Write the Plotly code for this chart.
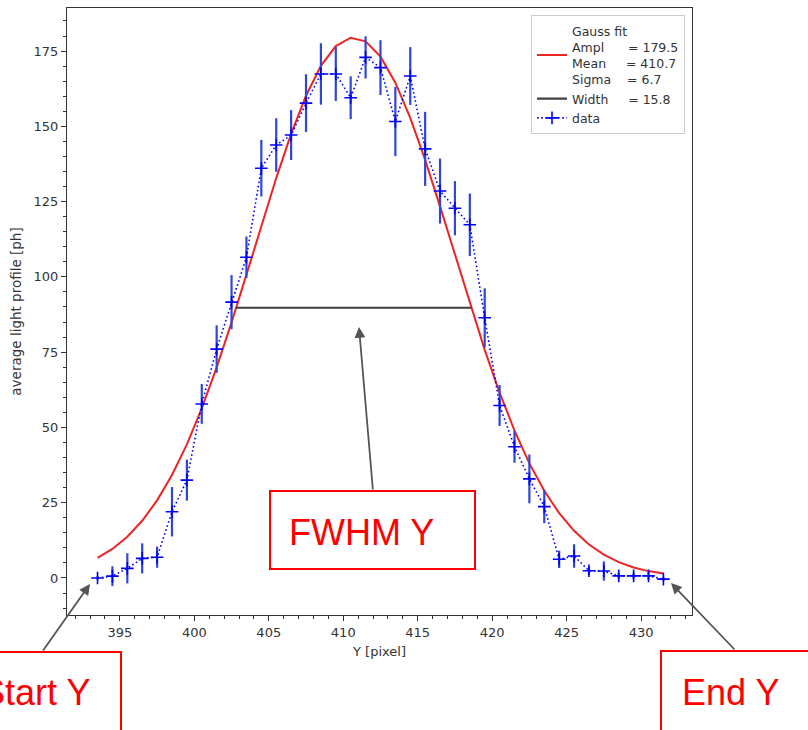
import numpy as np
import plotly.graph_objects as go

# ---- data ----
X_PIX = [393.5, 394.5, 395.5, 396.5, 397.5, 398.5, 399.5, 400.5, 401.5, 402.5,
         403.5, 404.5, 405.5, 406.5, 407.5, 408.5, 409.5, 410.5, 411.5, 412.5,
         413.5, 414.5, 415.5, 416.5, 417.5, 418.5, 419.5, 420.5, 421.5, 422.5,
         423.5, 424.5, 425.5, 426.5, 427.5, 428.5, 429.5, 430.5, 431.5]
PROFILE = [0.0, 0.6, 3.2, 6.5, 6.9, 22.0, 32.5, 57.8, 76.0, 91.6,
           106.5, 136.1, 143.8, 147.1, 157.7, 167.4, 167.4, 159.5, 172.9, 169.5,
           151.6, 166.7, 142.5, 128.5, 122.8, 117.3, 86.4, 57.3, 43.6, 32.9,
           23.7, 6.2, 7.3, 2.4, 2.3, 0.7, 0.7, 0.7, -0.4]
ERR = [0.6, 3.3, 5.0, 5.0, 3.5, 8.2, 6.8, 6.6, 7.9, 9.0,
       6.9, 9.4, 8.9, 8.3, 9.6, 10.2, 9.0, 7.1, 7.0, 9.1,
       11.5, 9.6, 12.3, 10.8, 9.0, 10.4, 9.8, 6.8, 5.3, 8.1,
       5.5, 2.9, 3.9, 1.4, 3.2, 1.0, 1.0, 1.3, 0.7]

# Gauss fit parameters (from legend)
AMPL = 179.5
MEAN = 410.7
SIGMA = 6.7
WIDTH = 15.8

X_TICKS = [395, 400, 405, 410, 415, 420, 425, 430]
Y_TICKS = [0, 25, 50, 75, 100, 125, 150, 175]

# ---- layout geometry (figure pixels) ----
W, H = 808, 730
L, R, T, B = 67, 692, 8, 615


def px(x):
    return (x - L) / (R - L)


def py(y):
    return (B - y) / (B - T)


xa = np.array(X_PIX)
fit = AMPL * np.exp(-(xa - MEAN) ** 2 / (2 * SIGMA ** 2))

nb = "\u00a0"
fit_name = ("Gauss fit<br>Ampl" + nb * 6 + "= 179.5<br>Mean" + nb * 5 + "= 410.7<br>Sigma"
            + nb * 4 + "= 6.7")
width_name = "Width" + nb * 5 + "= 15.8"

fig = go.Figure()
fig.add_trace(go.Scatter(x=X_PIX, y=fit, mode="lines", name=fit_name,
                         line=dict(color="#ee2424", width=2)))
fig.add_trace(go.Scatter(x=[MEAN - WIDTH / 2, MEAN + WIDTH / 2], y=[AMPL / 2, AMPL / 2],
                         mode="lines", name=width_name,
                         line=dict(color="#3c3c3c", width=2.2)))
fig.add_trace(go.Scatter(x=X_PIX, y=PROFILE, mode="lines+markers", name="data",
                         line=dict(color="#0000ff", width=1.6, dash="1.6px,2.6px"),
                         marker=dict(symbol="cross-thin", size=9, color="#0000ff",
                                     line=dict(color="#0000ff", width=1.6)),
                         error_y=dict(type="data", array=ERR, visible=True,
                                      color="#3046d8", thickness=2.2, width=0)))

axis_common = dict(showline=True, linecolor="#333333", linewidth=1, mirror=True,
                   ticks="outside", ticklen=5, tickcolor="#333333", tickwidth=1,
                   showgrid=False, zeroline=False,
                   tickfont=dict(family="DejaVu Sans", size=13, color="#333333"))

fig.update_xaxes(range=[391.45, 433.42], tickvals=X_TICKS,
                 minor=dict(dtick=1, ticks="outside", ticklen=3, tickcolor="#333333"),
                 title=dict(text="Y [pixel]", standoff=8,
                            font=dict(family="DejaVu Sans", size=13, color="#333333")),
                 **axis_common)
fig.update_yaxes(range=[-12.3, 189.3], tickvals=Y_TICKS,
                 minor=dict(dtick=5, ticks="outside", ticklen=3, tickcolor="#333333"),
                 title=dict(text="average light profile [ph]", standoff=8,
                            font=dict(family="DejaVu Sans", size=13.5, color="#333333")),
                 **axis_common)

shapes = []
annotations = []


def red_box(x0, y0, x1, y1):
    shapes.append(dict(type="rect", xref="paper", yref="paper",
                       x0=px(x0), x1=px(x1), y0=py(y1), y1=py(y0),
                       line=dict(color="#ff0000", width=2), fillcolor="rgba(0,0,0,0)",
                       layer="above"))


def red_text(text, x, y, anchor):
    annotations.append(dict(text=text, xref="paper", yref="paper", x=px(x), y=py(y),
                            xanchor=anchor, yanchor="middle", showarrow=False,
                            font=dict(family="Liberation Sans", size=36, color="#ff0000")))


def arrow(tipx, tipy, tailx, taily):
    annotations.append(dict(text="", xref="paper", yref="paper", x=px(tipx), y=py(tipy),
                            ax=tailx - tipx, ay=taily - tipy, axref="pixel", ayref="pixel",
                            showarrow=True, arrowhead=2, arrowsize=1.2, arrowwidth=1.8,
                            arrowcolor="#555555"))


red_box(270, 491, 475, 569)
red_text("FWHM Y", 287, 532, "left")
arrow(359, 327, 373, 491)

red_box(-60, 652, 121, 760)
red_text("Start Y", 92, 692, "right")
arrow(90, 584, 42, 652)

red_box(661, 651, 860, 760)
red_text("End Y", 680, 692, "left")
arrow(671, 583, 736, 651)

fig.update_layout(
    width=W, height=H,
    margin=dict(l=L, r=W - R, t=T, b=H - B),
    paper_bgcolor="white", plot_bgcolor="white",
    shapes=shapes, annotations=annotations,
    legend=dict(x=px(685), y=py(15), xanchor="right", yanchor="top",
                bgcolor="rgba(255,255,255,0.85)", bordercolor="#cccccc", borderwidth=1,
                font=dict(family="DejaVu Sans", size=12.5, color="#333333"),
                tracegroupgap=1),
    showlegend=True,
)

fig.write_html("out.html")
